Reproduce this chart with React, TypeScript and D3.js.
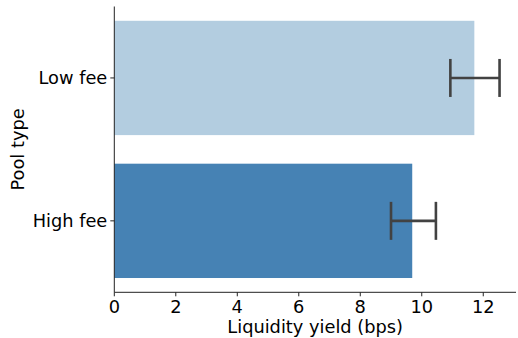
import React from "react";
import * as d3 from "d3";

const categories = ["Low fee", "High fee"];
const values = [11.71, 9.69];
const errLow = [10.93, 9.0];
const errHigh = [12.53, 10.46];
const colors = ["#b3cde0", "#4682b4"];
const xTicks = [0, 2, 4, 6, 8, 10, 12];

export default function App() {
  const W = 518, H = 338;
  const left = 114.3, right = 516, top = 6.5, bottom = 292.3;
  const x = d3.scaleLinear().domain([0, 13.065]).range([left, right]);
  const y = d3.scaleBand().domain(categories).range([top, bottom]).paddingInner(0.2).paddingOuter(0.1);
  const font = "DejaVu Sans, sans-serif";
  const fs = 17.8;
  return (
    <svg width={W} height={H} style={{ position: "absolute", left: 0, top: 0 }} fontFamily={font}>
      <rect width={W} height={H} fill="white" />
      {categories.map((c, i) => (
        <rect key={c} x={x(0)} y={y(c)!} width={x(values[i]) - x(0)} height={y.bandwidth()} fill={colors[i]} />
      ))}
      {categories.map((c, i) => {
        const cy = y(c)! + y.bandwidth() / 2;
        return (
          <g key={c} stroke="#424242" strokeWidth={2.6}>
            <line x1={x(errLow[i])} x2={x(errHigh[i])} y1={cy} y2={cy} />
            <line x1={x(errLow[i])} x2={x(errLow[i])} y1={cy - 19} y2={cy + 19} />
            <line x1={x(errHigh[i])} x2={x(errHigh[i])} y1={cy - 19} y2={cy + 19} />
          </g>
        );
      })}
      <line x1={left} x2={left} y1={top} y2={bottom} stroke="#222" strokeWidth={1} />
      <line x1={left} x2={right} y1={bottom} y2={bottom} stroke="#222" strokeWidth={1} />
      {xTicks.map((t) => (
        <g key={t}>
          <line x1={x(t)} x2={x(t)} y1={bottom} y2={bottom + 4} stroke="#222" />
          <text x={x(t)} y={bottom + 21} textAnchor="middle" fontSize={fs} fill="#000">{t}</text>
        </g>
      ))}
      {categories.map((c) => {
        const cy = y(c)! + y.bandwidth() / 2;
        return (
          <g key={c}>
            <line x1={left - 4} x2={left} y1={cy} y2={cy} stroke="#222" />
            <text x={left - 7} y={cy + 6.5} textAnchor="end" fontSize={fs} fill="#000">{c}</text>
          </g>
        );
      })}
      <text x={(left + right) / 2 - 0} y={333} textAnchor="middle" fontSize={fs} fill="#000">Liquidity yield (bps)</text>
      <text transform={`translate(24,${(top + bottom) / 2}) rotate(-90)`} textAnchor="middle" fontSize={fs} fill="#000">Pool type</text>
    </svg>
  );
}
